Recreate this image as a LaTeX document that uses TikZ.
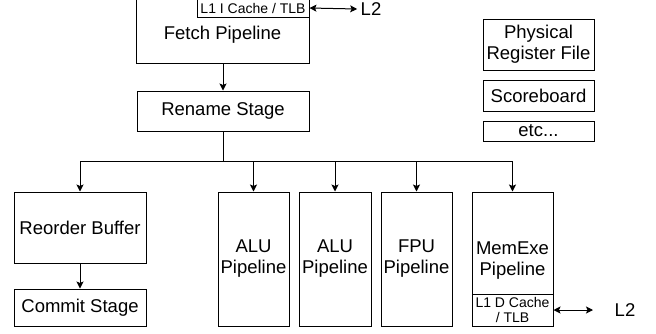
\documentclass[tikz,border=0pt]{standalone}
\usepackage{fontspec}
\setmainfont{Liberation Sans}
\usetikzlibrary{arrows.meta}
\begin{document}
\begin{tikzpicture}[x=1pt,y=-1pt,
  box/.style={draw=black,line width=1pt,inner sep=0pt,align=center,
    font=\fontsize{18.5}{21}\selectfont},
  arr/.style={line width=1pt,-{Stealth[length=7pt,width=7pt,inset=1.5pt]}},
  darr/.style={line width=1pt,{Stealth[length=7pt,width=7pt,inset=1.5pt]}-{Stealth[length=7pt,width=7pt,inset=1.5pt]}},
  ln/.style={line width=1pt}]
\useasboundingbox (0,0) rectangle (656,333);
% Fetch
\node[box,minimum width=173pt,minimum height=65pt] (fetch) at (222.5,31) {};
\node[box,minimum width=112pt,minimum height=18pt,font=\fontsize{14}{15}\selectfont] (l1i) at (253,8) {L1 I Cache / TLB};
\node[font=\fontsize{18.5}{21}\selectfont] (fetchtxt) at (222.5,35) {Fetch Pipeline};
\node[font=\fontsize{18.5}{21}\selectfont] (l2a) at (371,9) {L2};
\draw[darr] (l1i.east) -- (l2a.west);
% Rename
\node[box,minimum width=172pt,minimum height=40pt] (ren) at (223,111) {Rename Stage};
\draw[arr] (fetch.south -| ren.north) -- (ren.north);
% Side boxes
\node[box,minimum width=111pt,minimum height=51pt] (prf) at (538.5,44.5) {Physical\\Register File};
\node[box,minimum width=111pt,minimum height=31pt] (sb) at (538.5,95.5) {Scoreboard};
\node[box,minimum width=111pt,minimum height=20pt] (etc) at (538.5,131) {etc...};
% Lower
\node[box,minimum width=132pt,minimum height=71pt] (rob) at (80,227.5) {Reorder Buffer};
\node[box,minimum width=132pt,minimum height=37pt] (commit) at (80,307.5) {Commit Stage};
\node[box,minimum width=71pt,minimum height=134pt] (alu1) at (253.5,259) {ALU\\Pipeline};
\node[box,minimum width=72pt,minimum height=134pt] (alu2) at (335,259) {ALU\\Pipeline};
\node[box,minimum width=71pt,minimum height=134pt] (fpu) at (416.5,259) {FPU\\Pipeline};
\node[box,minimum width=81pt,minimum height=134pt] (mem) at (512.5,259) {};
\node[box,draw=none] (memtxt) at (512.5,261) {MemExe\\Pipeline};
\node[box,minimum width=81pt,minimum height=32pt,font=\fontsize{14}{15}\selectfont] (l1d) at (512.5,310) {L1 D Cache\\/ TLB};
\node[font=\fontsize{18.5}{21}\selectfont] (l2b) at (625,310) {L2};
\coordinate (l2bend) at (593,310);
\draw[darr] (l1d.east) -- (l2bend);
% bus
\coordinate (bus) at (223,161);
\draw[ln] (ren.south) -- (bus);
\draw[arr] (bus) -| (rob.north);
\draw[arr] (bus) -| (alu1.north);
\draw[arr] (bus) -| (alu2.north);
\draw[arr] (bus) -| (fpu.north);
\draw[arr] (bus) -| (mem.north);
\draw[arr] (rob.south) -- (commit.north);
\end{tikzpicture}
\end{document}
